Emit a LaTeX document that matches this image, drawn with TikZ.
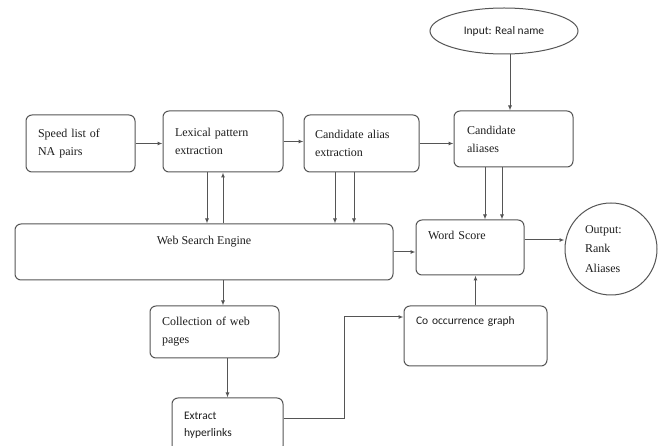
\documentclass[tikz,border=0pt]{standalone}
\usepackage{fontspec}
\setmainfont{Liberation Serif}
\newfontfamily\calibrifont{Carlito}
\usetikzlibrary{arrows.meta,shapes.geometric,calc}
\definecolor{linegray}{RGB}{85,85,85}
\definecolor{txt}{RGB}{30,30,30}
\begin{document}
\begin{tikzpicture}[x=1pt,y=-1pt,
  box/.style={draw=linegray, line width=1pt, rounded corners=6pt, inner sep=0pt,
    align=left, text=txt, font=\rmfamily\fontsize{12}{18}\selectfont},
  sbox/.style={box, font=\calibrifont\fontsize{11.5}{17}\selectfont},
  arr/.style={draw=linegray, line width=1pt, -{Latex[length=5pt,width=4pt]}}]
\clip (0,0) rectangle (659,446);
\fill[white] (0,0) rectangle (659,446);

\node[box, minimum width=109pt, minimum height=57pt, text width=85pt] (speed) at (80.5,143.5) {Speed list of\\NA pairs};
\node[box, minimum width=120pt, minimum height=61pt, text width=96pt] (lex) at (223,141.5) {Lexical pattern\\extraction\\[4pt]};
\node[box, minimum width=115pt, minimum height=57pt, text width=93pt] (cae) at (361.5,143.5) {Candidate alias\\extraction};
\node[box, minimum width=119pt, minimum height=56pt, text width=93pt] (ca) at (513.5,139) {Candidate\\aliases\\[4pt]};
\node[draw=linegray, line width=1pt, ellipse, minimum width=148pt, minimum height=46pt, inner sep=0pt, text=txt, font=\calibrifont\fontsize{11.5}{14}\selectfont] (input) at (504,31) {Input: Real name};

\node[box, minimum width=378pt, minimum height=56pt, text height=21pt, text depth=35pt, align=center] (wse) at (204,252) {Web Search Engine};
\node[box, minimum width=108pt, minimum height=55pt, text width=84pt, text height=20pt, text depth=35pt] (ws) at (470,247.5) {Word Score};
\node[draw=linegray, line width=1pt, circle, minimum size=92pt, inner sep=0pt, text width=52pt, align=left, text=txt, font=\rmfamily\fontsize{12}{19.5}\selectfont] (out) at (611,249) {Output:\\Rank\\Aliases};

\node[box, minimum width=129pt, minimum height=52pt, text width=105pt] (col) at (214.5,332) {Collection of web\\pages\\[2pt]};
\node[sbox, minimum width=143pt, minimum height=60pt, text width=119pt, text height=19pt, text depth=41pt] (co) at (475.5,336) {Co occurrence graph};
\node[sbox, minimum width=111pt, minimum height=54pt, text width=87pt] (ext) at (227.5,425) {Extract\\hyperlinks\\[4pt]};

% top row
\draw[arr] (speed.east) -- (speed.east -| lex.west);
\draw[arr] (lex.east) -- (lex.east -| cae.west);
\draw[arr] (cae.east) -- (cae.east -| ca.west);
\coordinate (i1) at ($(input.south)+(6,0)$);
\draw[arr] (i1) -- (i1 |- ca.north);

% lexical <-> web search engine
\coordinate (l1) at ($(lex.south)+(-16,0)$);
\coordinate (l2) at ($(lex.south)+(0,0)$);
\draw[arr] (l1) -- (l1 |- wse.north);
\draw[arr] (l2 |- wse.north) -- (l2);

% candidate alias extraction -> web search engine
\coordinate (c1) at ($(cae.south)+(-26.5,0)$);
\coordinate (c2) at ($(cae.south)+(-7.5,0)$);
\draw[arr] (c1) -- (c1 |- wse.north);
\draw[arr] (c2) -- (c2 |- wse.north);

% candidate aliases -> word score
\coordinate (a1) at ($(ca.south)+(-28.5,0)$);
\coordinate (a2) at ($(ca.south)+(-11.5,0)$);
\draw[arr] (a1) -- (a1 |- ws.north);
\draw[arr] (a2) -- (a2 |- ws.north);

% middle row
\draw[arr] (wse.east) -- (wse.east -| ws.west);
\coordinate (w1) at ($(ws.east)+(0,-7.5)$);
\draw[arr] (w1) -- (w1 -| out.west);
\draw[arr] (co.north) -- (co.north |- ws.south);

% lower part
\coordinate (g1) at ($(col.north)+(8.5,0)$);
\draw[arr] (g1 |- wse.south) -- (g1);
\draw[arr] (ext.north |- col.south) -- (ext.north);
\coordinate (e1) at ($(ext.east)+(0,-7)$);
\coordinate (bend) at (344,317);
\draw[arr] (e1) -| (bend) -- (bend -| co.west);
\end{tikzpicture}
\end{document}
